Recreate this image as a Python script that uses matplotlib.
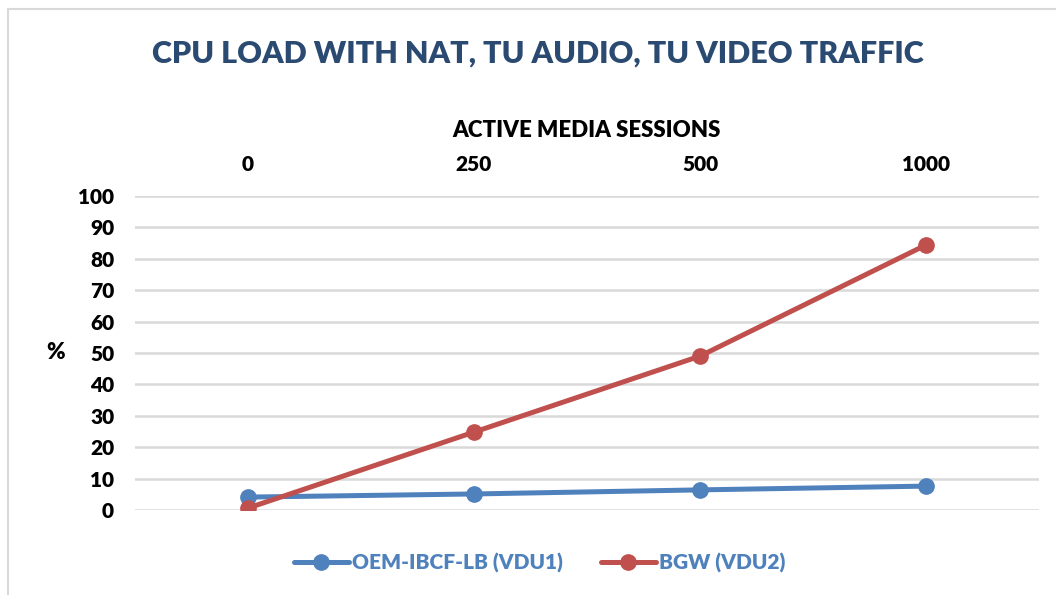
import matplotlib
matplotlib.use("Agg")
import matplotlib.pyplot as plt
from matplotlib.patches import Rectangle

plt.rcParams['font.family'] = ['Lato', 'DejaVu Sans']
plt.rcParams['font.weight'] = 'heavy'

# active media sessions (categories) and CPU load in percent
sessions = ['0', '250', '500', '1000']
ibcf_lb = [4.1, 5.1, 6.4, 7.6]
bgw = [0.6, 24.8, 49.0, 84.4]
yticks = list(range(0, 101, 10))

blue = '#4F81BD'
red = '#C0504D'
grid_col = '#D9D9D9'

fig = plt.figure(figsize=(10.56, 5.95), dpi=100)
ax = fig.add_axes([0.1278, 0.1429, 0.8561, 0.5277])

# thin chart-area frame (left and top edges visible)
fig.patches.append(Rectangle((0.0076, -0.1), 1.2, 1.085, transform=fig.transFigure,
                             fill=False, edgecolor='#D9D9D9', linewidth=1.5))

x = range(len(sessions))
ax.plot(x, ibcf_lb, color=blue, lw=3.6, marker='o', ms=11,
        solid_capstyle='round', label='OEM-IBCF-LB (VDU1)', zorder=3)
ax.plot(x, bgw, color=red, lw=3.6, marker='o', ms=11,
        solid_capstyle='round', label='BGW (VDU2)', zorder=4)

ax.set_xlim(-0.5, len(sessions) - 0.5)
ax.set_ylim(0, 100)
ax.set_yticks(yticks)
ax.set_xticks(list(x))
ax.set_xticklabels(sessions)
ax.xaxis.tick_top()
ax.xaxis.set_label_position('top')
ax.tick_params(axis='both', length=0, labelsize=15, labelcolor='black')
ax.tick_params(axis='x', pad=15.5)
ax.tick_params(axis='y', pad=15)
ax.grid(axis='y', color=grid_col, lw=1.8)
ax.set_axisbelow(True)
for s in ax.spines.values():
    s.set_visible(False)

ax.set_xlabel('ACTIVE MEDIA SESSIONS', fontsize=16, fontweight='heavy', labelpad=13)
ax.set_ylabel('%', fontsize=16, fontweight='heavy', rotation=0, labelpad=16, va='center')

fig.text(0.509, 0.91, 'CPU LOAD WITH NAT, TU AUDIO, TU VIDEO TRAFFIC', ha='center',
         va='center', fontsize=22, fontweight='heavy', color='#2A4A72')

leg = fig.legend(loc='center', bbox_to_anchor=(0.511, 0.054), ncol=2, frameon=False,
                 fontsize=15, handlelength=2.64, columnspacing=1.83, handletextpad=0.15)
for t in leg.get_texts():
    t.set_color(blue)

fig.savefig('out.png', dpi=100)
